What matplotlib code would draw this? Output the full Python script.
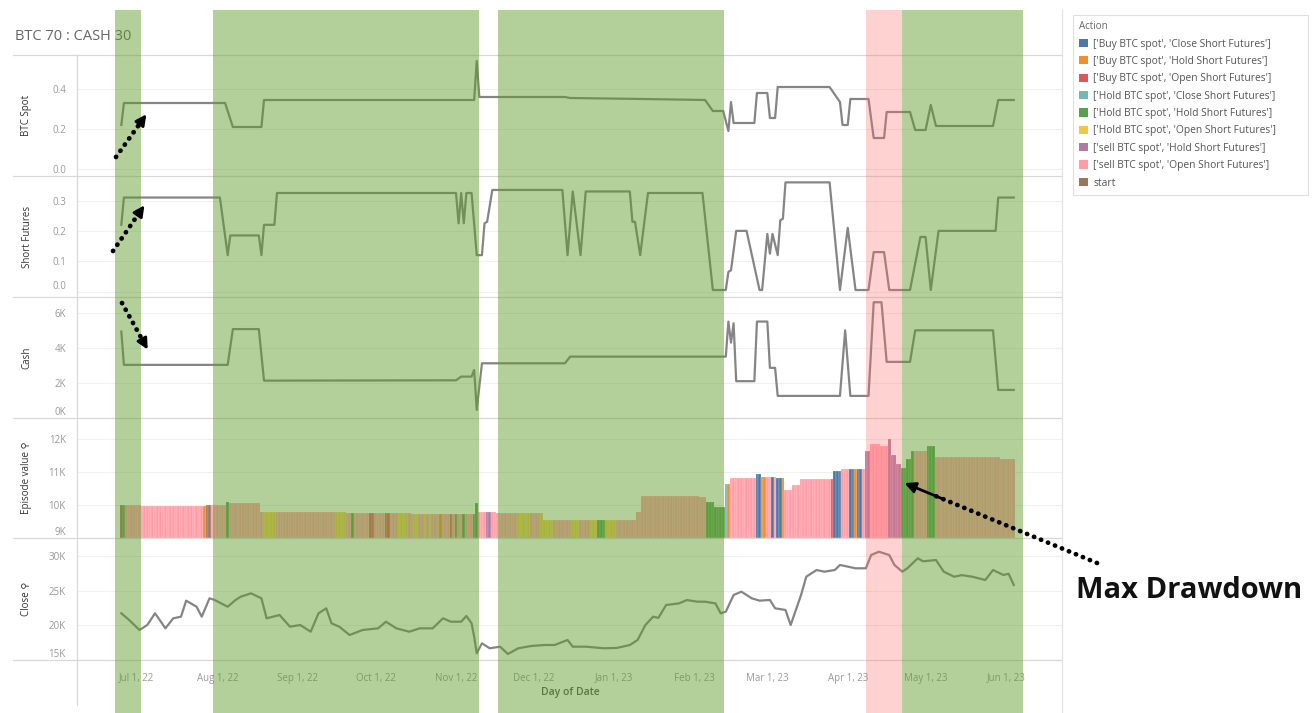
import numpy as np
import pandas as pd
import matplotlib
matplotlib.use('Agg')
import matplotlib.pyplot as plt
import matplotlib.dates as mdates
from matplotlib.patches import Patch, Rectangle, FancyArrowPatch
from matplotlib.lines import Line2D
from matplotlib.ticker import FuncFormatter, FixedLocator
from matplotlib.transforms import blended_transform_factory

plt.rcParams['font.family'] = ['Open Sans', 'DejaVu Sans']

# ---- data ----
actions = ["['Buy BTC spot', 'Close Short Futures']",
           "['Buy BTC spot', 'Hold Short Futures']",
           "['Buy BTC spot', 'Open Short Futures']",
           "['Hold BTC spot', 'Close Short Futures']",
           "['Hold BTC spot', 'Hold Short Futures']",
           "['Hold BTC spot', 'Open Short Futures']",
           "['sell BTC spot', 'Hold Short Futures']",
           "['sell BTC spot', 'Open Short Futures']",
           "start"]
action_colors = ['#4e79a7', '#f28e2b', '#e15759', '#76b7b2', '#59a14f',
                 '#edc948', '#b07aa1', '#ff9da7', '#9c755f']

spot_dates = ['2022-06-25', '2022-06-26', '2022-08-04', '2022-08-07', '2022-08-18', '2022-08-19',
              '2022-11-08', '2022-11-09', '2022-11-10', '2022-12-13', '2022-12-15', '2023-01-12',
              '2023-02-05', '2023-02-08', '2023-02-12', '2023-02-14', '2023-02-15', '2023-02-16',
              '2023-02-24', '2023-02-25', '2023-03-01', '2023-03-02', '2023-03-04', '2023-03-05',
              '2023-03-25', '2023-03-29', '2023-03-30', '2023-04-01', '2023-04-02', '2023-04-09',
              '2023-04-11', '2023-04-15', '2023-04-16', '2023-04-25', '2023-04-27', '2023-05-01',
              '2023-05-03', '2023-05-05', '2023-05-27', '2023-05-29', '2023-06-04']
spot_vals = [0.22, 0.33, 0.33, 0.21, 0.21, 0.345,
             0.345, 0.54, 0.36, 0.36, 0.355, 0.35,
             0.345, 0.29, 0.29, 0.19, 0.335, 0.23,
             0.23, 0.38, 0.38, 0.255, 0.255, 0.41,
             0.41, 0.335, 0.22, 0.22, 0.35, 0.35,
             0.155, 0.155, 0.285, 0.285, 0.195, 0.195,
             0.32, 0.215, 0.215, 0.345, 0.345]

fut_dates = ['2022-06-25', '2022-06-26', '2022-08-02', '2022-08-05', '2022-08-06', '2022-08-17',
             '2022-08-18', '2022-08-19', '2022-08-23', '2022-08-24', '2022-11-01', '2022-11-02',
             '2022-11-03', '2022-11-04', '2022-11-05', '2022-11-07', '2022-11-09', '2022-11-11',
             '2022-11-12', '2022-11-13', '2022-11-15', '2022-12-12', '2022-12-14', '2022-12-16',
             '2022-12-19', '2022-12-21', '2023-01-07', '2023-01-08', '2023-01-09', '2023-01-11',
             '2023-01-14', '2023-02-04', '2023-02-08', '2023-02-13', '2023-02-14', '2023-02-15',
             '2023-02-17', '2023-02-21', '2023-02-26', '2023-02-27', '2023-03-01', '2023-03-02',
             '2023-03-03', '2023-03-05', '2023-03-06', '2023-03-07', '2023-03-08', '2023-03-25',
             '2023-03-29', '2023-04-01', '2023-04-04', '2023-04-09', '2023-04-11', '2023-04-15',
             '2023-04-17', '2023-04-25', '2023-04-29', '2023-05-01', '2023-05-03', '2023-05-06',
             '2023-05-28', '2023-05-29', '2023-06-04']
fut_vals = [0.22, 0.31, 0.31, 0.12, 0.185, 0.185,
            0.12, 0.22, 0.22, 0.325, 0.325, 0.225,
            0.325, 0.225, 0.325, 0.325, 0.12, 0.12,
            0.225, 0.23, 0.335, 0.335, 0.12, 0.33,
            0.12, 0.33, 0.33, 0.23, 0.23, 0.12,
            0.325, 0.325, 0.005, 0.005, 0.065, 0.07,
            0.2, 0.2, 0.005, 0.005, 0.19, 0.125,
            0.19, 0.12, 0.235, 0.24, 0.36, 0.36,
            0.005, 0.21, 0.005, 0.005, 0.13, 0.13,
            0.005, 0.005, 0.18, 0.18, 0.005, 0.2,
            0.2, 0.31, 0.31]

cash_dates = ['2022-06-25', '2022-06-26', '2022-08-05', '2022-08-07', '2022-08-17', '2022-08-19',
              '2022-11-01', '2022-11-03', '2022-11-07', '2022-11-08', '2022-11-09', '2022-11-11',
              '2022-12-13', '2022-12-15', '2023-02-13', '2023-02-14', '2023-02-15', '2023-02-16',
              '2023-02-17', '2023-02-24', '2023-02-25', '2023-03-01', '2023-03-02', '2023-03-04',
              '2023-03-05', '2023-03-29', '2023-03-31', '2023-04-02', '2023-04-09', '2023-04-11',
              '2023-04-14', '2023-04-16', '2023-04-25', '2023-04-27', '2023-05-01', '2023-05-03',
              '2023-05-27', '2023-05-29', '2023-06-04']
cash_vals = [4930, 3030, 3030, 5070, 5070, 2130,
             2150, 2360, 2360, 2740, 460, 3120,
             3120, 3500, 3500, 5500, 4300, 5400,
             2100, 2100, 5500, 5500, 2860, 2860,
             1260, 1260, 5000, 1260, 1260, 6600,
             6600, 3200, 3200, 5000, 5000, 5000,
             5000, 1600, 1600]

# episode value: value runs and action runs (each holds until the next start)
ep_end = '2023-06-04'
ep_val_start = ['2022-06-25', '2022-07-03', '2022-07-28', '2022-08-05', '2022-08-06', '2022-08-18',
                '2022-09-20', '2022-10-15', '2022-11-09', '2022-11-10', '2022-11-17', '2022-12-05',
                '2023-01-10', '2023-01-12', '2023-02-03', '2023-02-06', '2023-02-09', '2023-02-13',
                '2023-02-15', '2023-02-25', '2023-02-27', '2023-03-05', '2023-03-08', '2023-03-11',
                '2023-03-14', '2023-03-27', '2023-03-30', '2023-04-04', '2023-04-08', '2023-04-10',
                '2023-04-14', '2023-04-17', '2023-04-18', '2023-04-20', '2023-04-22', '2023-04-24',
                '2023-04-26', '2023-05-02', '2023-05-05', '2023-05-30']
ep_val = [9990, 9970, 10000, 10090, 10060, 9780,
          9760, 9730, 10050, 9780, 9760, 9560,
          9800, 10260, 10230, 10080, 9930, 10650,
          10830, 10950, 10850, 10820, 10440, 10600,
          10780, 11040, 11100, 11080, 11640, 11860,
          11800, 12000, 11500, 11250, 11130, 11400,
          11640, 11800, 11460, 11400]
ep_act_start = ['2022-06-25', '2022-06-26', '2022-06-27', '2022-07-27', '2022-07-28', '2022-07-30',
                '2022-08-05', '2022-08-06', '2022-08-19', '2022-08-24', '2022-09-16', '2022-09-20',
                '2022-09-22', '2022-09-23', '2022-09-29', '2022-10-01', '2022-10-05', '2022-10-07',
                '2022-10-10', '2022-10-14', '2022-10-16', '2022-10-18', '2022-10-20', '2022-10-21',
                '2022-10-22', '2022-10-23', '2022-10-26', '2022-10-27', '2022-10-30', '2022-10-31',
                '2022-11-01', '2022-11-02', '2022-11-04', '2022-11-05', '2022-11-08', '2022-11-10',
                '2022-11-13', '2022-11-15', '2022-11-25', '2022-11-30', '2022-12-04', '2022-12-09',
                '2022-12-16', '2022-12-19', '2022-12-23', '2022-12-26', '2022-12-29', '2023-01-02',
                '2023-02-06', '2023-02-13', '2023-02-14', '2023-02-15', '2023-02-25', '2023-02-27',
                '2023-03-01', '2023-03-03', '2023-03-04', '2023-03-05', '2023-03-07', '2023-03-08',
                '2023-03-26', '2023-03-27', '2023-03-30', '2023-04-02', '2023-04-04', '2023-04-05',
                '2023-04-07', '2023-04-08', '2023-04-10', '2023-04-17', '2023-04-22', '2023-04-27',
                '2023-05-02', '2023-05-05']
ep_act = [8, 4, 7, 1, 8, 7,
          4, 7, 5, 7, 5, 7,
          4, 7, 2, 7, 2, 7,
          5, 7, 5, 7, 5, 7,
          5, 7, 1, 7, 2, 7,
          4, 7, 4, 7, 4, 7,
          6, 7, 5, 7, 5, 7,
          5, 7, 5, 4, 5, 7,
          4, 3, 1, 7, 0, 1,
          7, 0, 7, 0, 1, 7,
          2, 0, 7, 0, 1, 0,
          7, 6, 7, 6, 4, 7,
          4, 7]

close_dates = ['2022-06-25', '2022-06-28', '2022-07-02', '2022-07-05', '2022-07-08', '2022-07-12',
               '2022-07-15', '2022-07-18', '2022-07-20', '2022-07-24', '2022-07-26', '2022-07-29',
               '2022-07-31', '2022-08-05', '2022-08-08', '2022-08-10', '2022-08-14', '2022-08-18',
               '2022-08-20', '2022-08-25', '2022-08-29', '2022-09-02', '2022-09-06', '2022-09-09',
               '2022-09-12', '2022-09-14', '2022-09-17', '2022-09-21', '2022-09-26', '2022-10-02',
               '2022-10-05', '2022-10-09', '2022-10-14', '2022-10-18', '2022-10-23', '2022-10-27',
               '2022-10-30', '2022-11-03', '2022-11-05', '2022-11-07', '2022-11-08', '2022-11-09',
               '2022-11-11', '2022-11-14', '2022-11-18', '2022-11-21', '2022-11-25', '2022-11-30',
               '2022-12-05', '2022-12-09', '2022-12-14', '2022-12-16', '2022-12-21', '2022-12-28',
               '2023-01-02', '2023-01-07', '2023-01-10', '2023-01-13', '2023-01-16', '2023-01-18',
               '2023-01-21', '2023-01-26', '2023-01-29', '2023-02-02', '2023-02-05', '2023-02-09',
               '2023-02-11', '2023-02-13', '2023-02-16', '2023-02-19', '2023-02-23', '2023-02-26',
               '2023-03-02', '2023-03-04', '2023-03-08', '2023-03-10', '2023-03-14', '2023-03-16',
               '2023-03-20', '2023-03-23', '2023-03-27', '2023-03-29', '2023-04-04', '2023-04-08',
               '2023-04-10', '2023-04-13', '2023-04-17', '2023-04-19', '2023-04-22', '2023-04-24',
               '2023-04-28', '2023-04-30', '2023-05-05', '2023-05-08', '2023-05-12', '2023-05-15',
               '2023-05-19', '2023-05-24', '2023-05-27', '2023-05-31', '2023-06-02', '2023-06-04']
close_vals = [21770, 20800, 19350, 20070, 21770, 19590,
              21040, 21280, 23600, 22720, 21280, 23940,
              23690, 22720, 23690, 24170, 24660, 23940,
              21040, 21520, 19830, 20070, 19100, 21770,
              22490, 20320, 19830, 18620, 19350, 19590,
              20550, 19590, 19100, 19590, 19590, 21040,
              20550, 20550, 21380, 20320, 18380, 15970,
              17420, 16700, 16930, 15870, 16700, 17030,
              17170, 17170, 17900, 16930, 16930, 16700,
              16750, 17170, 17900, 20070, 21280, 21100,
              22970, 23210, 23690, 23450, 23450, 23200,
              21770, 22000, 24420, 24900, 23940, 23600,
              23700, 22490, 22250, 20070, 24420, 27070,
              28040, 27800, 28040, 28770, 28290, 28290,
              30210, 30690, 30210, 28770, 27800, 28300,
              29740, 29300, 29490, 27800, 27070, 27300,
              27070, 26590, 28040, 27320, 27500, 25870]

# shaded regimes
green_start = ['2022-06-22 12:00', '2022-07-30 08:00', '2022-11-17 05:00', '2023-04-21 22:00']
green_end = ['2022-07-02 12:00', '2022-11-09 20:00', '2023-02-12 08:00', '2023-06-07 14:00']
red_start = ['2023-04-08 00:00']
red_end = ['2023-04-21 22:00']

# ---- layout helpers (pixel positions of the dashboard) ----
W, H = 1312, 713
def fx(px):
    return px / W
def fy(py):
    return 1 - py / H

fig = plt.figure(figsize=(W / 100, H / 100), dpi=100)
edges = [55, 176, 297, 418, 538, 660]
names = ['BTC Spot', 'Short Futures', 'Cash', 'Episode value \u26b2', 'Close \u26b2']
ylims = [(-0.035, 0.57), (-0.018, 0.381), (0, 6900), (9000, 12636), (15000, 32680)]
yticks = [[0.0, 0.2, 0.4], [0.0, 0.1, 0.2, 0.3], [0, 2000, 4000, 6000],
          [9000, 10000, 11000, 12000], [15000, 20000, 25000, 30000]]

kfmt = FuncFormatter(lambda v, p: '%dK' % round(v / 1000))
axes = []
for i in range(5):
    ax = fig.add_axes([fx(77), fy(edges[i + 1]), fx(1062) - fx(77), (edges[i + 1] - edges[i]) / H],
                      sharex=axes[0] if axes else None)
    for s in ax.spines.values():
        s.set_visible(False)
    ax.set_ylim(*ylims[i])
    ax.yaxis.set_major_locator(FixedLocator(yticks[i]))
    if i >= 2:
        ax.yaxis.set_major_formatter(kfmt)
    else:
        ax.yaxis.set_major_formatter(FuncFormatter(lambda v, p: '%.1f' % v))
    ax.tick_params(axis='y', length=0, labelsize=7, labelcolor='#9a9a9a', pad=8)
    ax.tick_params(axis='x', length=0)
    ax.grid(axis='y', color='#f0f0f0', lw=0.8)
    ax.set_axisbelow(True)
    ax.set_facecolor('none')
    fig.text(fx(27), fy((edges[i] + edges[i + 1]) / 2), names[i], rotation=90, ha='center',
             va='center', fontsize=7, color='#333333')
    if i < 4:
        plt.setp(ax.get_xticklabels(), visible=False)
    axes.append(ax)

line_kw = dict(color='#858585', lw=1.6, solid_joinstyle='round')
axes[0].plot(pd.to_datetime(spot_dates), spot_vals, **line_kw)
axes[1].plot(pd.to_datetime(fut_dates), fut_vals, **line_kw)
axes[2].plot(pd.to_datetime(cash_dates), cash_vals, **line_kw)
axes[4].plot(pd.to_datetime(close_dates), close_vals, **line_kw)

# daily bars for episode value, looked up from the runs
days = pd.date_range(ep_val_start[0], ep_end, freq='D')
vi = np.searchsorted(pd.to_datetime(ep_val_start).values, days.values, side='right') - 1
ai = np.searchsorted(pd.to_datetime(ep_act_start).values, days.values, side='right') - 1
day_vals = np.array(ep_val)[vi]
day_cols = [action_colors[ep_act[k]] for k in ai]
axes[3].bar(days, day_vals - 9000, bottom=9000, width=1.0, color=day_cols,
            edgecolor=(1, 1, 1, 0.45), linewidth=0.3)

axes[4].set_xlim(mdates.date2num(pd.Timestamp('2022-06-07 22:00')),
                 mdates.date2num(pd.Timestamp('2023-06-22 14:00')))
axes[4].xaxis.set_major_locator(mdates.MonthLocator())
axes[4].xaxis.set_major_formatter(FuncFormatter(
    lambda v, p: mdates.num2date(v).strftime('%b 1, %y')))
axes[4].tick_params(axis='x', labelsize=7, labelcolor='#9a9a9a', pad=9)

# Tableau keeps the lowest labels inside their pane
for ax in axes[1:]:
    ax.yaxis.get_major_ticks()[0].label1.set_va('bottom')

# frame lines of the dashboard
for py in edges:
    fig.add_artist(Line2D([fx(13), fx(1062)], [fy(py), fy(py)], color='#d9d9d9', lw=0.9,
                          transform=fig.transFigure, zorder=1))
fig.add_artist(Line2D([fx(77), fx(77)], [fy(55), fy(705)], color='#d9d9d9', lw=0.9,
                      transform=fig.transFigure, zorder=1))
fig.add_artist(Line2D([fx(1062), fx(1062)], [fy(10), fy(713)], color='#e3e3e3', lw=0.9,
                      transform=fig.transFigure, zorder=1))

fig.text(fx(15), fy(37), 'BTC 70 : CASH 30', fontsize=10.5, color='#666666', va='center', ha='left')
fig.text(fx(570), fy(692), 'Day of Date', fontsize=7.5, color='#555555', va='center', ha='center',
         fontweight='semibold')

# translucent regime overlays on top of every panel
tr = blended_transform_factory(axes[4].transData, fig.transFigure)
for s, e in zip(green_start, green_end):
    x0 = mdates.date2num(pd.Timestamp(s))
    x1 = mdates.date2num(pd.Timestamp(e))
    fig.add_artist(Rectangle((x0, 0), x1 - x0, fy(10), transform=tr, color='#5f9a2a',
                             alpha=0.47, lw=0, zorder=5))
for s, e in zip(red_start, red_end):
    x0 = mdates.date2num(pd.Timestamp(s))
    x1 = mdates.date2num(pd.Timestamp(e))
    fig.add_artist(Rectangle((x0, 0), x1 - x0, fy(10), transform=tr, color='#ff6b6b',
                             alpha=0.3, lw=0, zorder=5))

# dotted arrows drawn over the screenshot
def dotted_arrow(x0, y0, x1, y1):
    p0 = np.array([fx(x0), fy(y0)])
    p1 = np.array([fx(x1), fy(y1)])
    pm = p0 + (p1 - p0) * 0.85
    fig.add_artist(Line2D([p0[0], pm[0]], [p0[1], pm[1]], color='black', lw=3.4,
                          linestyle=(0, (0.05, 1.55)), dash_capstyle='round',
                          transform=fig.transFigure, zorder=10))
    fig.add_artist(FancyArrowPatch(tuple(p0 + (p1 - p0) * 0.78), tuple(p1), transform=fig.transFigure,
                                   arrowstyle='-|>', mutation_scale=16, color='black', lw=2.0,
                                   zorder=10))

dotted_arrow(116, 157, 148, 112)
dotted_arrow(113, 251, 146, 203)
dotted_arrow(122, 303, 149, 352)
dotted_arrow(1097, 563, 902, 482)

fig.text(fx(1076), fy(590), 'Max Drawdown', fontsize=21, fontweight='bold', color='#111111',
         va='center', ha='left', zorder=10)

handles = [Patch(facecolor=c, edgecolor='none') for c in action_colors]
leg = fig.legend(handles, actions, loc='upper left',
                 bbox_to_anchor=(fx(1073), fy(195), fx(1308) - fx(1073), fy(15) - fy(195)),
                 mode='expand', title='Action', alignment='left', fontsize=7.4, title_fontsize=7,
                 handlelength=0.85, handleheight=0.85, handletextpad=0.5, labelspacing=0.62,
                 borderpad=0.6, borderaxespad=0, frameon=True, fancybox=False, edgecolor='#d8d8d8')
leg.get_frame().set_linewidth(0.8)
leg.get_title().set_color('#666666')
for t in leg.get_texts():
    t.set_color('#555555')
leg.set_zorder(20)

fig.savefig('out.png', dpi=100)
